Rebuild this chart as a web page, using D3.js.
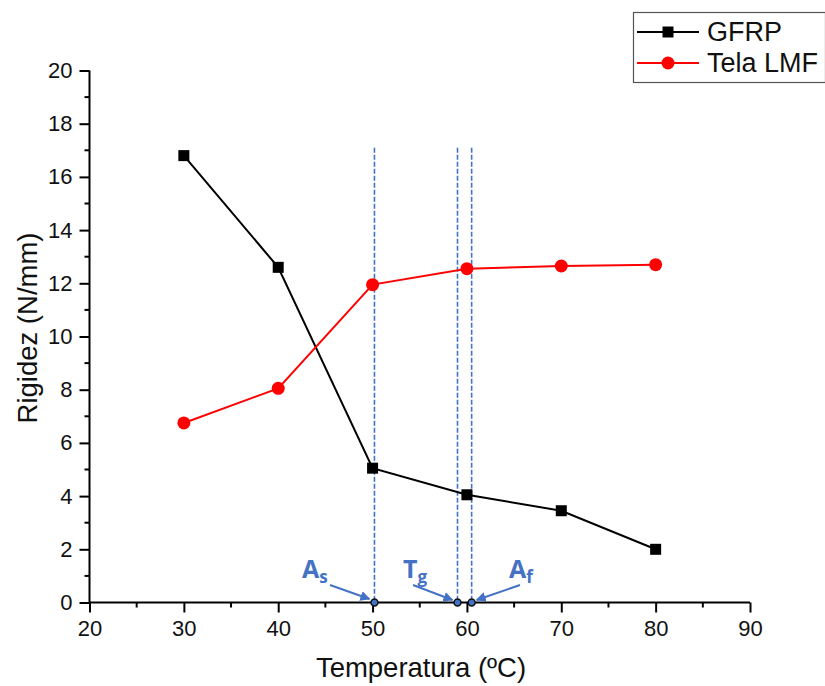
<!DOCTYPE html>
<html>
<head>
<meta charset="utf-8">
<script src="https://cdn.jsdelivr.net/npm/d3@7"></script>
<style>
  body { margin: 0; background: #fff; }
  svg { font-family: "Liberation Sans", Arial, sans-serif; }
</style>
</head>
<body>
<svg id="chart" width="825" height="686"></svg>
<script>
// Stiffness vs temperature for two materials
const temperatures = [30, 40, 50, 60, 70, 80];
const gfrp = [16.8, 12.6, 5.05, 4.05, 3.45, 2.0];
const telaLMF = [6.75, 8.05, 11.95, 12.55, 12.65, 12.7];

// Transition temperatures marked on the x axis
const transitionNames = ["A", "T", "A"];
const transitionSubs = ["s", "g", "f"];
const transitionTemps = [50.2, 59.0, 60.5];

const xTicks = [20, 30, 40, 50, 60, 70, 80, 90];
const yTicks = [0, 2, 4, 6, 8, 10, 12, 14, 16, 18, 20];

const svg = d3.select("#chart");
const x = d3.scaleLinear().domain([20, 90]).range([89.5, 750]);
const y = d3.scaleLinear().domain([0, 20]).range([602.5, 70.5]);

const blue = "#4472C4";

// Axes with minor ticks
const xMinor = d3.range(25, 90, 10);
const yMinor = d3.range(1, 20, 2);

const gx = svg.append("g").attr("transform", `translate(0,${y(0)})`);
gx.call(d3.axisBottom(x).tickValues(xTicks).tickSize(10).tickPadding(8).tickFormat(d3.format("d")));
gx.selectAll(".minor").data(xMinor).enter().append("line")
  .attr("x1", d => x(d)).attr("x2", d => x(d)).attr("y1", 0).attr("y2", 5)
  .attr("stroke", "#000").attr("stroke-width", 2);

const gy = svg.append("g").attr("transform", `translate(${x(20)},0)`);
gy.call(d3.axisLeft(y).tickValues(yTicks).tickSize(10).tickPadding(7).tickFormat(d3.format("d")));
gy.selectAll(".minor").data(yMinor).enter().append("line")
  .attr("x1", 0).attr("x2", -5).attr("y1", d => y(d)).attr("y2", d => y(d))
  .attr("stroke", "#000").attr("stroke-width", 2);

[gx, gy].forEach(g => {
  g.select(".domain").attr("stroke-width", 2).attr("stroke", "#000");
  g.selectAll(".tick line").attr("stroke-width", 2);
  g.selectAll(".tick text").attr("font-size", 22).attr("fill", "#111")
    .attr("font-family", "Liberation Sans, Arial, sans-serif");
});
gx.select(".domain").attr("d", `M${x(20)},0H${x(90)}`);
gy.select(".domain").attr("d", `M0,${y(0)}V${y(20)}`);

// Axis titles
svg.append("text").attr("x", 421).attr("y", 677).attr("text-anchor", "middle")
  .attr("font-size", 27.5).attr("fill", "#111").text("Temperatura (ºC)");
svg.append("text").attr("transform", `translate(37,${328}) rotate(-90)`)
  .attr("text-anchor", "middle").attr("font-size", 27.5).attr("fill", "#111").text("Rigidez (N/mm)");

// Transition markers: dashed vertical lines, arrows, labels
svg.append("defs").append("marker").attr("id", "arrow")
  .attr("viewBox", "0 0 10 10").attr("refX", 9).attr("refY", 5)
  .attr("markerWidth", 5).attr("markerHeight", 5).attr("orient", "auto")
  .append("path").attr("d", "M0,0L10,5L0,10z").attr("fill", blue);

transitionTemps.forEach(t => {
  svg.append("line").attr("x1", x(t)).attr("x2", x(t)).attr("y1", y(17.1)).attr("y2", y(0))
    .attr("stroke", blue).attr("stroke-width", 1.6).attr("stroke-dasharray", "5,2");
});

const arrowStarts = [[330, 585], [413, 585], [520, 585]];
const arrowEnds = [[x(transitionTemps[0]) - 5, 599], [x(transitionTemps[1]) - 5, 600], [x(transitionTemps[2]) + 5, 600]];
arrowStarts.forEach((s, i) => {
  svg.append("line").attr("x1", s[0]).attr("y1", s[1]).attr("x2", arrowEnds[i][0]).attr("y2", arrowEnds[i][1])
    .attr("stroke", blue).attr("stroke-width", 2).attr("marker-end", "url(#arrow)");
});

const labelPos = [[302, 578], [403, 578], [509, 578]];
labelPos.forEach((p, i) => {
  const t = svg.append("text").attr("x", p[0]).attr("y", p[1]).attr("fill", blue)
    .attr("font-family", "'Open Sans', sans-serif").attr("font-weight", "bold").attr("font-size", 25);
  t.append("tspan").text(transitionNames[i]);
  t.append("tspan").attr("dy", 5).attr("font-size", 17).text(transitionSubs[i]);
});

transitionTemps.forEach(t => {
  svg.append("circle").attr("cx", x(t)).attr("cy", y(0)).attr("r", 3.5)
    .attr("fill", blue).attr("stroke", "#111").attr("stroke-width", 1.5);
});

// Series lines and markers
const line = d3.line().x(d => x(d[0])).y(d => y(d[1]));
const gData = temperatures.map((t, i) => [t, gfrp[i]]);
const tData = temperatures.map((t, i) => [t, telaLMF[i]]);

svg.append("path").datum(gData).attr("d", line).attr("fill", "none").attr("stroke", "#000").attr("stroke-width", 2);
svg.append("path").datum(tData).attr("d", line).attr("fill", "none").attr("stroke", "#ff0000").attr("stroke-width", 2);

svg.selectAll(".sq").data(gData).enter().append("rect")
  .attr("x", d => x(d[0]) - 5.5).attr("y", d => y(d[1]) - 5.5).attr("width", 11).attr("height", 11).attr("fill", "#000");
svg.selectAll(".dot").data(tData).enter().append("circle")
  .attr("cx", d => x(d[0])).attr("cy", d => y(d[1])).attr("r", 6.5).attr("fill", "#ff0000");

// Legend
const lg = svg.append("g");
lg.append("rect").attr("x", 633.5).attr("y", 12.5).attr("width", 192).attr("height", 70)
  .attr("fill", "#fff").attr("stroke", "#555").attr("stroke-width", 1.2);
const legendItems = [["GFRP", "#000", "square"], ["Tela LMF", "#ff0000", "circle"]];
legendItems.forEach((it, i) => {
  const cy = 32 + i * 31;
  lg.append("line").attr("x1", 637).attr("x2", 699).attr("y1", cy).attr("y2", cy)
    .attr("stroke", it[1]).attr("stroke-width", 2);
  if (it[2] === "square") {
    lg.append("rect").attr("x", 668 - 5.5).attr("y", cy - 5.5).attr("width", 11).attr("height", 11).attr("fill", it[1]);
  } else {
    lg.append("circle").attr("cx", 668).attr("cy", cy).attr("r", 6.5).attr("fill", it[1]);
  }
  lg.append("text").attr("x", 707).attr("y", cy + 9).attr("font-size", 27).attr("fill", "#111").text(it[0]);
});
</script>
</body>
</html>
